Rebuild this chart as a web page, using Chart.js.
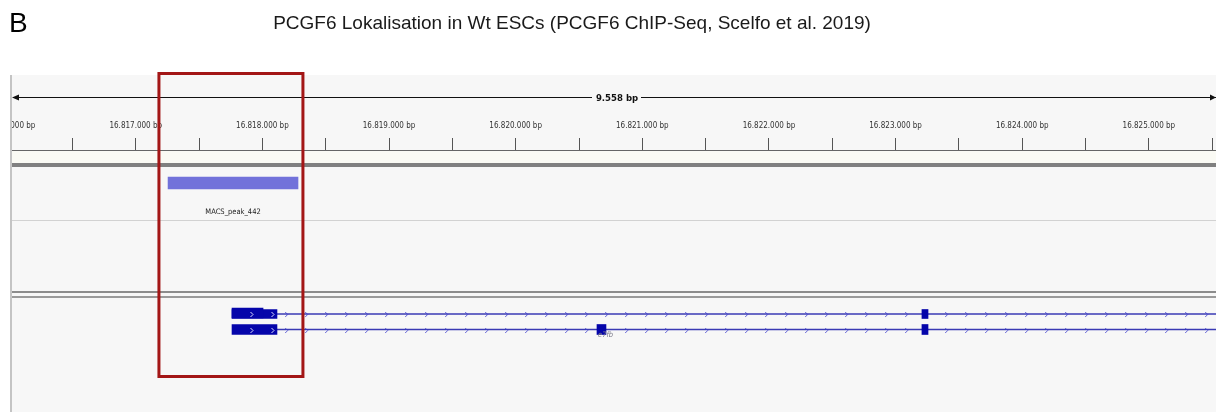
<!DOCTYPE html>
<html>
<head>
<meta charset="utf-8">
<title>PCGF6 Lokalisation in Wt ESCs</title>
<script src="https://cdn.jsdelivr.net/npm/chart.js@4.4.1/dist/chart.umd.min.js"></script>
<style>
    html, body { margin: 0; padding: 0; background: #fff; }
    #igv-view { display: block; }
</style>
</head>
<body>
<canvas id="igv-view" width="1216" height="412"></canvas>
<script>
// genomic window shown (bp)
const viewStart = 16815999;
const viewEnd = 16825530;
const rulerStep = 500;
const spanLabel = '9.558 bp';
const panelLetter = 'B';
const titleText = 'PCGF6 Lokalisation in Wt ESCs (PCGF6 ChIP-Seq, Scelfo et al. 2019)';

// MACS peaks track
const peakNames = ['MACS_peak_442'];
const peakStarts = [16817255];
const peakEnds = [16818281];

// gene track, two transcripts
const geneName = 'e7fb';
const txStarts = [16817760, 16817760];
const txEnds = [16826500, 16826500];
const tx1ExonStarts = [16817760, 16823208];
const tx1ExonEnds = [16818115, 16823256];
const tx1ThickStarts = [16817760];
const tx1ThickEnds = [16818005];
const tx2ExonStarts = [16817760, 16820642, 16823208];
const tx2ExonEnds = [16818115, 16820713, 16823256];

// highlighted region (red box)
const regionStart = 16817183;
const regionEnd = 16818320;

// track lanes on the y scale (1 unit = 10 px below the ruler)
const LANE = {peak: 3.3, tx1: 16.4, tx2: 17.95};

const narrowFont = "'Liberation Sans Narrow', 'DejaVu Sans Condensed', sans-serif";

function formatBp(value) {
    return String(value).replace(/\B(?=(\d{3})+(?!\d))/g, '.');
}

function toBars(starts, ends, lane) {
    return starts.map((s, i) => ({x: [s, ends[i]], y: lane}));
}

function intronLine(i, lane) {
    return [{x: txStarts[i], y: lane}, {x: txEnds[i], y: lane}];
}

function chevron(ctx, x, y, color) {
    ctx.strokeStyle = color;
    ctx.lineWidth = 1;
    ctx.beginPath();
    ctx.moveTo(x - 1.5, y - 2.5);
    ctx.lineTo(x + 1, y);
    ctx.lineTo(x - 1.5, y + 2.5);
    ctx.stroke();
}

const igvPanel = {
    id: 'igvPanel',
    beforeDraw(chart) {
        const ctx = chart.ctx;
        const area = chart.chartArea;
        ctx.save();
        ctx.fillStyle = '#ffffff';
        ctx.fillRect(0, 0, chart.width, chart.height);
        ctx.fillStyle = '#f7f7f7';
        ctx.fillRect(10, 75, chart.width - 10, chart.height - 75);
        // strip under the ruler
        ctx.fillStyle = '#fafaf4';
        ctx.fillRect(10, area.top, chart.width - 10, 13);
        ctx.strokeStyle = '#7a7a7a';
        ctx.lineWidth = 1;
        ctx.strokeRect(10.5, area.top + 0.5, chart.width, 13);
        ctx.fillStyle = '#808080';
        ctx.fillRect(10, area.top + 13, chart.width - 10, 4);
        // track separators
        ctx.fillStyle = '#d2d2d2';
        ctx.fillRect(10, 220, chart.width - 10, 1);
        ctx.fillStyle = '#8c8c8c';
        ctx.fillRect(10, 291, chart.width - 10, 2);
        ctx.fillStyle = '#9a9a9a';
        ctx.fillRect(10, 296, chart.width - 10, 2);
        ctx.restore();
    },
    afterDatasetsDraw(chart) {
        const ctx = chart.ctx;
        const x = chart.scales.x;
        const y = chart.scales.y;
        const area = chart.chartArea;
        ctx.save();
        ctx.beginPath();
        ctx.rect(area.left, area.top, area.width, area.height);
        ctx.clip();
        const exonSets = [[tx1ExonStarts, tx1ExonEnds], [tx2ExonStarts, tx2ExonEnds]];
        [LANE.tx1, LANE.tx2].forEach((lane, i) => {
            const py = Math.round(y.getPixelForValue(lane)) + 0.5;
            const starts = exonSets[i][0].map(v => x.getPixelForValue(v));
            const ends = exonSets[i][1].map(v => x.getPixelForValue(v));
            const x0 = x.getPixelForValue(txStarts[i]);
            for (let px = x0 + 14.7; px < area.right; px += 20) {
                const inExon = starts.some((s, k) => px > s - 2 && px < ends[k] + 2);
                if (!inExon) chevron(ctx, px, py, 'rgba(60,60,205,0.8)');
            }
            starts.forEach((s, k) => {
                if (ends[k] - s > 20) {
                    for (let px = s + 20; px < ends[k] - 2; px += 21) {
                        chevron(ctx, px, py, '#dcdcff');
                    }
                }
            });
        });
        ctx.restore();

        // feature labels
        ctx.save();
        ctx.fillStyle = '#222';
        ctx.font = '7.5px ' + narrowFont;
        ctx.textAlign = 'center';
        ctx.textBaseline = 'middle';
        peakNames.forEach((name, i) => {
            const cx = (x.getPixelForValue(peakStarts[i]) + x.getPixelForValue(peakEnds[i])) / 2;
            ctx.fillText(name, cx, y.getPixelForValue(LANE.peak) + 29);
        });
        ctx.fillStyle = '#7a7a8a';
        ctx.font = 'italic 7.5px ' + narrowFont;
        ctx.textAlign = 'left';
        ctx.fillText(geneName, x.getPixelForValue(tx2ExonStarts[1]) + 1, y.getPixelForValue(LANE.tx2) + 6);
        ctx.restore();
    },
    afterDraw(chart) {
        const ctx = chart.ctx;
        const x = chart.scales.x;
        ctx.save();
        // page margin left of the panel
        ctx.fillStyle = '#ffffff';
        ctx.fillRect(0, 75, 10, chart.height - 75);
        ctx.fillStyle = '#c4c4c4';
        ctx.fillRect(10, 75, 2, chart.height - 75);

        // ruler span arrow
        const ly = 97.5;
        const mid = 617;
        ctx.strokeStyle = '#111';
        ctx.lineWidth = 1.2;
        ctx.beginPath();
        ctx.moveTo(13, ly);
        ctx.lineTo(592, ly);
        ctx.moveTo(641, ly);
        ctx.lineTo(chart.width, ly);
        ctx.stroke();
        ctx.fillStyle = '#111';
        ctx.beginPath();
        ctx.moveTo(12, ly);
        ctx.lineTo(19, ly - 3);
        ctx.lineTo(19, ly + 3);
        ctx.closePath();
        ctx.fill();
        ctx.beginPath();
        ctx.moveTo(chart.width, ly);
        ctx.lineTo(chart.width - 6, ly - 3);
        ctx.lineTo(chart.width - 6, ly + 3);
        ctx.closePath();
        ctx.fill();
        ctx.font = 'bold 9.5px ' + narrowFont;
        ctx.textAlign = 'center';
        ctx.textBaseline = 'middle';
        ctx.fillText(spanLabel, mid, ly + 1);

        // highlighted region
        ctx.strokeStyle = '#a31616';
        ctx.lineWidth = 3;
        const rx0 = x.getPixelForValue(regionStart);
        const rx1 = x.getPixelForValue(regionEnd);
        ctx.strokeRect(rx0, 73.5, rx1 - rx0, 303);

        // panel letter and title
        ctx.fillStyle = '#000';
        ctx.textAlign = 'left';
        ctx.textBaseline = 'alphabetic';
        ctx.font = '28px "Liberation Sans", Arial, sans-serif';
        ctx.fillText(panelLetter, 9, 32);
        ctx.fillStyle = '#1a1a1a';
        ctx.textAlign = 'center';
        ctx.font = '19px "Liberation Sans", Arial, sans-serif';
        ctx.fillText(titleText, 572, 29);
        ctx.restore();
    }
};

const data = {
    datasets: [
        {
            type: 'bar',
            label: 'MACS peaks',
            data: toBars(peakStarts, peakEnds, LANE.peak),
            backgroundColor: 'rgb(114,114,218)',
            barThickness: 12,
            grouped: false,
            order: 0
        },
        {
            type: 'bar',
            label: 'tx1 thick',
            data: toBars(tx1ThickStarts, tx1ThickEnds, LANE.tx1 - 0.1),
            backgroundColor: '#0505aa',
            barThickness: 10,
            grouped: false,
            order: 0
        },
        {
            type: 'bar',
            label: 'tx1 exons',
            data: toBars(tx1ExonStarts, tx1ExonEnds, LANE.tx1),
            backgroundColor: '#0505aa',
            barThickness: 9,
            grouped: false,
            order: 0
        },
        {
            type: 'bar',
            label: 'tx2 exons',
            data: toBars(tx2ExonStarts, tx2ExonEnds, LANE.tx2),
            backgroundColor: '#0505aa',
            barThickness: 10,
            grouped: false,
            order: 0
        },
        {
            type: 'line',
            label: 'tx1 introns',
            data: intronLine(0, LANE.tx1),
            borderColor: '#3a3ab4',
            borderWidth: 1.3,
            pointRadius: 0,
            order: 1
        },
        {
            type: 'line',
            label: 'tx2 introns',
            data: intronLine(1, LANE.tx2),
            borderColor: '#3a3ab4',
            borderWidth: 1.3,
            pointRadius: 0,
            order: 1
        }
    ]
};

const chartConfig = {
    type: 'bar',
    data: data,
    options: {
        indexAxis: 'y',
        responsive: false,
        animation: false,
        devicePixelRatio: 1,
        events: [],
        layout: {
            padding: {top: 75, left: 9, right: 0, bottom: 0}
        },
        scales: {
            x: {
                type: 'linear',
                position: 'top',
                min: viewStart,
                max: viewEnd,
                afterBuildTicks: function (scale) {
                    // ruler ticks every 500 bp, labelled every 1000 bp
                    const ticks = [];
                    for (let v = Math.ceil(viewStart / rulerStep) * rulerStep; v <= viewEnd; v += rulerStep) {
                        ticks.push({value: v});
                    }
                    scale.ticks = ticks;
                },
                afterFit: function (scale) {
                    scale.height = 75;
                    // labels at the edges may run past the panel, as in IGV
                    scale.paddingLeft = 0;
                    scale.paddingRight = 0;
                },
                grid: {
                    drawOnChartArea: false,
                    drawTicks: true,
                    tickLength: 12,
                    tickColor: '#555',
                    tickWidth: 1
                },
                border: {
                    display: true,
                    color: '#666',
                    width: 1
                },
                ticks: {
                    autoSkip: false,
                    maxRotation: 0,
                    padding: 7,
                    color: '#333',
                    font: {family: narrowFont, size: 8},
                    callback: function (value) {
                        return value % 1000 === 0 ? formatBp(value) + ' bp' : '';
                    }
                }
            },
            y: {
                type: 'linear',
                display: false,
                reverse: true,
                offset: false,
                min: 0,
                max: 26.2
            }
        },
        plugins: {
            legend: {display: false},
            tooltip: {enabled: false},
            title: {display: false}
        }
    },
    plugins: [igvPanel]
};

const igvCanvas = document.querySelector('#igv-view');
if (igvCanvas) {
    const igvChart = new Chart(igvCanvas, chartConfig);
}
</script>
</body>
</html>
